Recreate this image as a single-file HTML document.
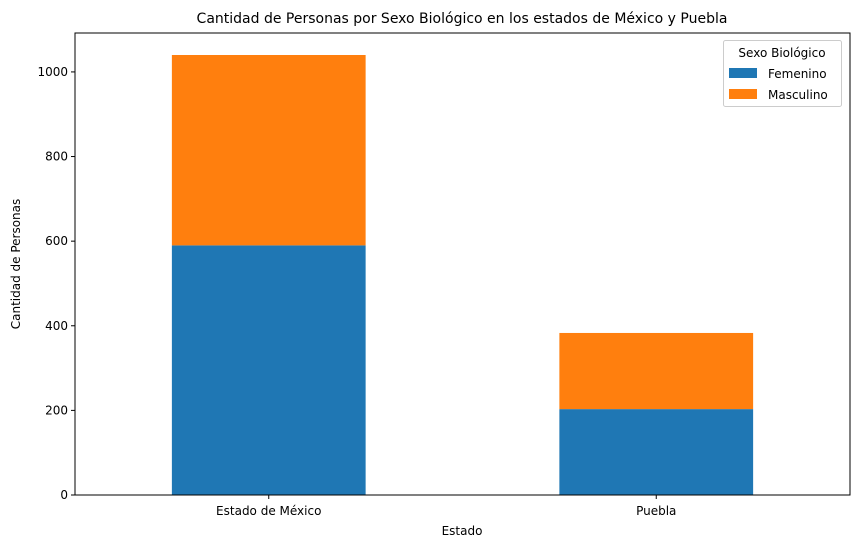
<!DOCTYPE html>
<html><head><meta charset="utf-8"><style>
body{margin:0;background:#fff;}
svg text{font-family:"DejaVu Sans","Liberation Sans",sans-serif;fill:#000;}
</style></head><body>
<svg width="859" height="548" viewBox="0 0 859 548">
<g id="bars"></g>
<g id="axes"></g>
<text x="462" y="23" font-size="14" text-anchor="middle">Cantidad de Personas por Sexo Biológico en los estados de México y Puebla</text>
<text x="462" y="535" font-size="12" text-anchor="middle">Estado</text>
<text x="20" y="264" font-size="12" text-anchor="middle" transform="rotate(-90 20 264)">Cantidad de Personas</text>
<g>
<rect x="723.5" y="40.5" width="118" height="66" fill="#fff" stroke="#ccc" rx="2"/>
<text x="782" y="57" font-size="12" text-anchor="middle">Sexo Biológico</text>
<rect x="729" y="68" width="28" height="10" fill="#1f77b4"/>
<text x="768" y="78" font-size="12">Femenino</text>
<rect x="729" y="89" width="28" height="10" fill="#ff7f0e"/>
<text x="768" y="99" font-size="12">Masculino</text>
</g>
</svg>
<script>
const categories=["Estado de México","Puebla"];
const femenino=[590,203];
const masculino=[450,180];
const yTicks=[0,200,400,600,800,1000];
const NS="http://www.w3.org/2000/svg";
const L=75,R=850,T=33,B=495;
const total=categories.map((c,i)=>femenino[i]+masculino[i]);
const ymax=Math.max(...total)*1.05;
const y=v=>B-(v/ymax)*(B-T);
const unit=(R-L)/categories.length;
const x=i=>L+unit*(i+0.5);
const bw=unit*0.5;
function mk(tag,attrs,parent){const e=document.createElementNS(NS,tag);for(const k in attrs)e.setAttribute(k,attrs[k]);parent.appendChild(e);return e;}
const bars=document.getElementById('bars'),axes=document.getElementById('axes');
categories.forEach((c,i)=>{
 let r=mk('rect',{x:x(i)-bw/2,y:y(femenino[i]),width:bw,height:y(0)-y(femenino[i]),fill:'#1f77b4'},bars);
 
 
 let r2=mk('rect',{x:x(i)-bw/2,y:y(total[i]),width:bw,height:y(femenino[i])-y(total[i]),fill:'#ff7f0e'},bars);
 
 
 mk('line',{x1:x(i),x2:x(i),y1:B,y2:B+4,stroke:'#000'},axes);
 let t=mk('text',{x:x(i),y:B+20,'font-size':12,'text-anchor':'middle'},axes);
 t.textContent=c;
 
 
});
yTicks.forEach(v=>{
 mk('line',{x1:L-4,x2:L,y1:y(v),y2:y(v),stroke:'#000'},axes);
 let t=mk('text',{x:L-7,y:y(v)+4,'font-size':12,'text-anchor':'end'},axes);
 t.textContent=v;
 
 
});
let f=mk('rect',{x:L,y:T,width:R-L,height:B-T,fill:'none',stroke:'#000','stroke-width':1},axes);


</script>
</body></html>
